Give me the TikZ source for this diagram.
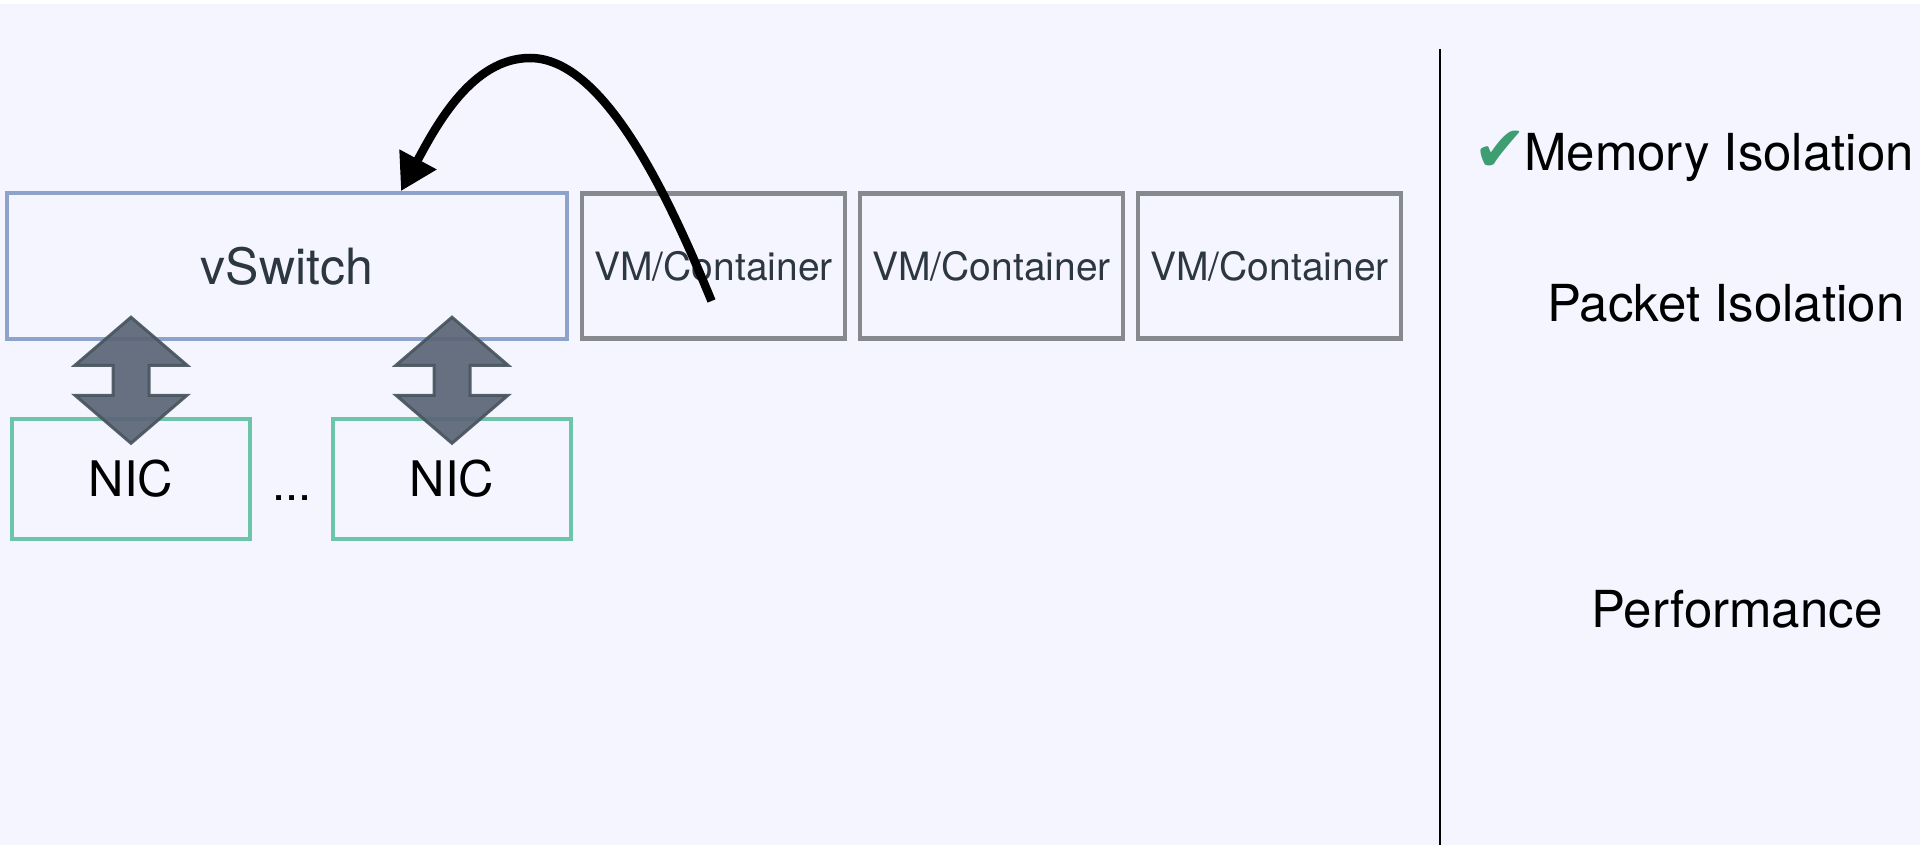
\documentclass[tikz,border=0pt]{standalone}
\usepackage{fontspec}
\setmainfont{TeX Gyre Heros}
\newfontfamily\symbolfont{DejaVu Sans}
\usetikzlibrary{arrows.meta,calc}

\definecolor{bgcol}{HTML}{F4F5FF}
\definecolor{switchcol}{HTML}{8EA3CB}
\definecolor{vmcol}{HTML}{86898D}
\definecolor{niccol}{HTML}{6CC4A9}
\definecolor{labelcol}{HTML}{2D3741}
\definecolor{pipecol}{HTML}{5B6576}
\definecolor{pipeedge}{HTML}{48555E}
\definecolor{okcol}{HTML}{3E9E72}

\tikzset{
  switchbox/.style={draw=switchcol, line width=3.8pt, minimum width=560pt,
    minimum height=146pt, inner sep=0pt, text=labelcol,
    font=\fontsize{50}{60}\selectfont},
  vmbox/.style={draw=vmcol, line width=4.5pt, minimum width=263pt,
    minimum height=145pt, inner sep=0pt, text=labelcol,
    font=\fontsize{39}{47}\selectfont},
  nicbox/.style={draw=niccol, line width=3.5pt, minimum width=238pt,
    minimum height=120pt, inner sep=0pt, text=black,
    font=\fontsize{49}{59}\selectfont},
  goal/.style={anchor=base west, inner sep=0pt, text=black,
    font=\fontsize{51}{60}\selectfont},
  flow/.style={draw=black, line width=8.5pt,
    -{Triangle[length=36pt,width=40pt]}},
  pipe/.style={fill=pipecol, draw=pipeedge, line width=3pt,
    line join=miter, opacity=0.92},
  pics/dblarrow/.style={code={
    \draw[pipe] (0,0) -- ++(56,48) -- ++(-38,0) -- ++(0,30) -- ++(38,0)
      -- ++(-56,48) -- ++(-56,-48) -- ++(38,0) -- ++(0,-30) -- ++(-38,0)
      -- cycle;
  }},
}

\begin{document}
\begin{tikzpicture}[x=1pt,y=-1pt]
  % canvas
  \fill[white] (0,0) rectangle (1920,845);
  \fill[bgcol] (0,4) rectangle (1920,845);
  \useasboundingbox (0,0) rectangle (1920,845);

  % switch and guests
  \node[switchbox] (vs) at (287,266) {vSwitch};
  \node[vmbox] (vm1) at (713.5,266) {VM/Container};
  \node[vmbox] (vm2) at (991.5,266) {VM/Container};
  \node[vmbox] (vm3) at (1269.5,266) {VM/Container};

  % physical NICs
  \node[nicbox] (nic1) at (131,479) {NIC};
  \node[nicbox] (nic2) at (452,479) {NIC};
  \node[anchor=base, inner sep=0pt, font=\fontsize{47}{56}\selectfont]
    (dots) at (292,500) {...};

  % NIC <-> vSwitch links
  \path (nic1.north) ++(0,-100) coordinate (link1);
  \path (nic2.north) ++(0,-100) coordinate (link2);
  \pic at (link1) {dblarrow};
  \pic at (link2) {dblarrow};

  % guest traffic looping back into the switch
  \coordinate (src) at ($(vm1.center)+(-2,35)$);
  \coordinate (top) at (530,58);
  \coordinate (dst) at ($(vs.north)+(114,0)$);
  \draw[flow] (src) .. controls (662,180) and (600,58) .. (top)
    .. controls (472,58) and (436,126) .. (dst);

  % divider
  \coordinate (divtop) at (1440,49);
  \coordinate (divbot) at (1440,845);
  \draw[line width=2pt] (divtop) -- (divbot);

  % requirements
  \node[goal] (mem) at (1524,171) {Memory Isolation};
  \node[text=okcol, inner sep=0pt, font=\symbolfont\fontsize{64}{70}\selectfont]
    (tick) at (1500,151) {✔};
  \node[goal] (pkt) at (1547,321) {Packet Isolation};
  \node[goal] (perf) at (1591,627) {Performance};
\end{tikzpicture}
\end{document}
